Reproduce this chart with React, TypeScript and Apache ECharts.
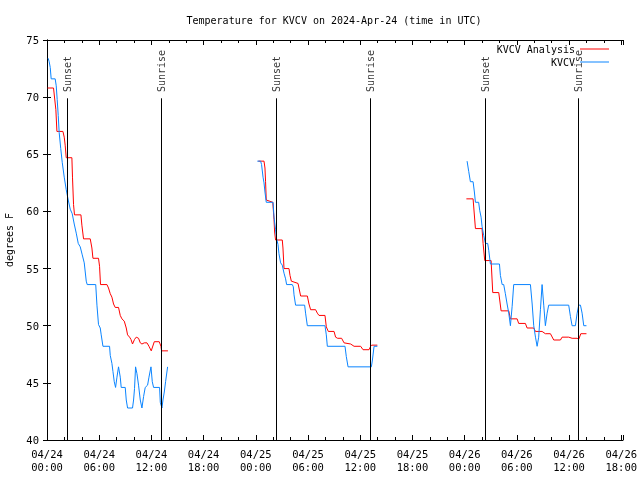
import React, { useEffect, useRef } from "react";
import * as echarts from "echarts";

// x values are hours since 2024-04-24 00:00 UTC, y values are degrees F
const analysisDay1: number[][] = [
  [0.06, 70.8], [0.75, 70.8], [1.02, 68.9], [1.14, 67.0], [1.83, 67.0], [1.98, 66.5], [2.09, 65.8], [2.21, 64.7],
  [2.86, 64.7], [2.93, 63.0], [3.05, 60.6], [3.16, 59.7], [3.9, 59.7], [4.01, 58.8], [4.2, 57.6], [4.97, 57.6],
  [5.16, 56.8], [5.28, 55.9], [5.92, 55.9], [6.04, 55.2], [6.15, 53.6], [6.89, 53.6], [7.07, 53.3], [7.27, 52.8],
  [7.46, 52.5], [7.65, 51.9], [7.84, 51.6], [8.22, 51.6], [8.42, 50.9], [8.61, 50.6], [8.88, 50.4], [9.11, 49.8],
  [9.26, 49.2], [9.49, 49.0], [9.65, 48.8], [9.83, 48.4], [10.06, 48.8], [10.26, 49.0], [10.52, 48.9], [10.72, 48.5],
  [10.91, 48.4], [11.18, 48.5], [11.49, 48.5], [11.72, 48.2], [11.98, 47.8], [12.33, 48.6], [12.9, 48.6], [13.1, 48.2],
  [13.17, 47.8], [13.9, 47.8],
];
const analysisDay2: number[][] = [
  [24.29, 64.4], [24.94, 64.4], [25.05, 63.8], [25.12, 62.6], [25.2, 61.0], [25.95, 60.8], [26.09, 59.3], [26.16, 58.2],
  [26.27, 57.5], [27.04, 57.5], [27.12, 56.8], [27.24, 55.0], [27.81, 55.0], [27.93, 54.4], [28.08, 53.9], [28.85, 53.7],
  [28.96, 53.3], [29.15, 52.6], [29.92, 52.6], [30.11, 51.9], [30.3, 51.4], [30.87, 51.4], [31.07, 51.1], [31.26, 50.9],
  [31.95, 50.9], [32.1, 49.9], [32.33, 49.5], [32.99, 49.5], [33.17, 49.0], [33.4, 48.9], [33.86, 48.9], [34.14, 48.5],
  [34.9, 48.4], [35.29, 48.2], [36.05, 48.2], [36.32, 47.9], [37.01, 47.9], [37.2, 48.2], [37.31, 48.3], [37.97, 48.3],
];
const analysisDay3: number[][] = [
  [48.2, 61.1], [48.97, 61.1], [49.24, 58.5], [50.0, 58.5], [50.12, 57.2], [50.31, 55.7], [51.04, 55.7], [51.23, 52.9],
  [51.92, 52.9], [52.19, 51.3], [53.07, 51.3], [53.26, 50.6], [54.03, 50.6], [54.21, 50.2], [54.98, 50.2], [55.18, 49.8],
  [55.94, 49.8], [56.14, 49.5], [56.9, 49.5], [57.28, 49.3], [57.86, 49.3], [58.24, 48.75], [59.01, 48.75], [59.2, 49.0],
  [59.96, 49.0], [60.35, 48.9], [60.93, 48.9], [61.11, 48.8], [61.35, 49.3], [62.0, 49.3],
];
const obsDay1: number[][] = [
  [0.14, 73.4], [0.25, 73.1], [0.37, 72.6], [0.48, 71.6], [0.94, 71.6], [1.06, 71.0], [1.17, 69.8], [1.29, 68.4],
  [1.4, 66.9], [1.58, 65.5], [1.75, 64.3], [1.98, 63.0], [2.21, 61.9], [2.44, 61.0], [2.67, 60.2], [2.9, 59.8],
  [3.13, 58.9], [3.36, 58.1], [3.59, 57.2], [3.82, 56.9], [4.05, 56.2], [4.28, 55.5], [4.51, 53.9], [4.62, 53.6],
  [5.6, 53.6], [5.74, 51.8], [5.92, 50.1], [6.12, 49.8], [6.23, 49.2], [6.43, 48.2], [7.19, 48.2], [7.27, 47.4],
  [7.46, 46.7], [7.58, 46.0], [7.73, 45.1], [7.88, 44.6], [8.04, 45.5], [8.22, 46.4], [8.42, 45.5], [8.53, 44.6],
  [8.99, 44.6], [9.11, 43.5], [9.26, 42.8], [9.83, 42.8], [9.95, 43.5], [10.06, 44.5], [10.18, 46.4], [10.34, 45.8],
  [10.52, 44.8], [10.72, 43.5], [10.91, 42.8], [11.1, 43.8], [11.29, 44.6], [11.56, 44.8], [11.72, 45.5], [11.95, 46.4],
  [12.1, 45.1], [12.25, 44.6], [12.94, 44.6], [13.02, 43.3], [13.21, 42.8], [13.33, 43.5], [13.48, 44.2], [13.63, 45.1],
  [13.86, 46.4],
];
const obsDay2: number[][] = [
  [24.17, 64.4], [24.55, 64.4], [24.66, 64.1], [24.83, 63.0], [24.94, 62.5], [25.05, 61.7], [25.2, 60.8], [25.98, 60.8],
  [26.09, 59.5], [26.27, 58.4], [26.39, 57.6], [26.55, 57.1], [26.66, 56.3], [26.85, 55.5], [27.04, 55.3], [27.24, 54.6],
  [27.42, 54.1], [27.54, 53.6], [28.19, 53.6], [28.31, 53.4], [28.39, 52.7], [28.57, 51.8], [29.61, 51.8], [29.72, 51.1],
  [29.92, 50.0], [31.95, 50.0], [32.1, 49.2], [32.22, 48.2], [34.25, 48.2], [34.4, 47.3], [34.6, 46.4], [37.28, 46.4],
  [37.4, 47.0], [37.59, 48.2], [37.97, 48.2],
];
const obsDay3: number[][] = [
  [48.28, 64.4], [48.47, 63.5], [48.66, 62.6], [48.97, 62.6], [49.12, 61.7], [49.24, 60.8], [49.61, 60.8], [49.73, 60.1],
  [49.89, 59.5], [50.0, 58.7], [50.19, 57.9], [50.39, 57.2], [50.65, 57.2], [50.77, 56.6], [50.96, 55.4], [52.0, 55.4],
  [52.11, 54.4], [52.31, 53.6], [52.49, 53.6], [52.68, 52.8], [52.88, 51.9], [53.07, 51.1], [53.26, 50.0], [53.46, 51.7],
  [53.64, 53.6], [55.56, 53.6], [55.76, 51.9], [55.94, 50.0], [56.14, 49.0], [56.33, 48.2], [56.51, 49.0], [56.71, 51.4],
  [56.9, 53.6], [57.09, 51.8], [57.28, 50.0], [57.48, 51.1], [57.66, 51.8], [59.96, 51.8], [60.16, 50.8], [60.35, 50.0],
  [60.73, 50.0], [60.93, 51.1], [61.11, 51.8], [61.31, 51.8], [61.5, 51.1], [61.69, 50.0], [62.0, 50.0],
];
const sunHours: number[] = [2.36, 13.13, 26.39, 37.2, 50.42, 61.11];
const sunLabels: string[] = ["Sunset", "Sunrise", "Sunset", "Sunrise", "Sunset", "Sunrise"];
const seriesNames: string[] = ["KVCV Analysis", "KVCV"];

export default function App() {
  const ref = useRef<HTMLDivElement>(null);
  useEffect(() => {
    if (!ref.current) return;
    const chart = echarts.init(ref.current, null, { renderer: "svg" });
    const font = "'DejaVu Sans Mono', 'Liberation Mono', monospace";
    const RED = "#ff0000";
    const BLUE = "#0a84ff";
    const fmtX = (v: number) => {
      const dayIdx = Math.floor(v / 24 + 1e-9);
      const hr = Math.round(v - dayIdx * 24);
      return `04/${24 + dayIdx}\n${String(hr).padStart(2, "0")}:00`;
    };
    const xBase = {
      type: "value" as const,
      min: 0,
      max: 66.2,
      interval: 6,
      axisLine: { show: true, lineStyle: { color: "#000", width: 1 } },
      axisTick: { show: true, inside: true, length: 5, lineStyle: { color: "#000" } },
      minorTick: { show: true, splitNumber: 3, length: 3, lineStyle: { color: "#000" } },
      splitLine: { show: false },
    };
    const yBase = {
      type: "value" as const,
      min: 40,
      max: 75,
      interval: 5,
      axisLine: { show: true, lineStyle: { color: "#000", width: 1 } },
      axisTick: { show: true, inside: true, length: 4, lineStyle: { color: "#000" } },
      splitLine: { show: false },
    };
    const lineSeries = (name: string, color: string, data: number[][]) => ({
      type: "line" as const,
      name,
      data,
      symbol: "none",
      color,
      lineStyle: { color, width: 1 },
      xAxisIndex: 0,
      yAxisIndex: 0,
      silent: true,
    });
    chart.setOption({
      animation: false,
      title: {
        text: "Temperature for KVCV on 2024-Apr-24 (time in UTC)",
        left: 329,
        textAlign: "center",
        top: 10,
        textStyle: { fontFamily: font, fontSize: 10, fontWeight: "normal", color: "#000" },
      },
      legend: {
        data: seriesNames,
        orient: "vertical",
        align: "right",
        right: 26,
        top: 38,
        itemWidth: 29,
        itemHeight: 1,
        itemGap: 1,
        icon: "rect",
        textStyle: { fontFamily: font, fontSize: 10, color: "#000", lineHeight: 12 },
      },
      grid: {
        left: 47,
        right: 17,
        top: 40,
        bottom: 40,
        show: false,
        containLabel: false,
        outerBoundsMode: "none",
      },
      xAxis: [
        {
          ...xBase,
          position: "bottom",
          axisLabel: {
            formatter: fmtX,
            fontFamily: font,
            fontSize: 10.5,
            color: "#000",
            lineHeight: 12.7,
            margin: 8,
            showMaxLabel: false,
          },
        },
        { ...xBase, position: "top", axisLabel: { show: false } },
      ],
      yAxis: [
        {
          ...yBase,
          position: "left",
          name: "degrees F",
          nameLocation: "middle",
          nameRotate: 90,
          nameGap: 33,
          nameTextStyle: { fontFamily: font, fontSize: 10, color: "#000" },
          axisLabel: { fontFamily: font, fontSize: 10.5, color: "#000", margin: 8 },
        },
        { ...yBase, position: "right", axisLabel: { show: false } },
      ],
      series: [
        lineSeries(seriesNames[0], RED, analysisDay1),
        lineSeries(seriesNames[0], RED, analysisDay2),
        lineSeries(seriesNames[0], RED, analysisDay3),
        lineSeries(seriesNames[1], BLUE, obsDay1),
        lineSeries(seriesNames[1], BLUE, obsDay2),
        lineSeries(seriesNames[1], BLUE, obsDay3),
        {
          type: "scatter",
          name: "sun",
          symbolSize: 0,
          silent: true,
          data: sunHours.map((h, i) => [h, 70.45, sunLabels[i]]),
          label: {
            show: true,
            formatter: (p: any) => p.value[2],
            position: [0, 0],
            rotate: 90,
            align: "left",
            verticalAlign: "middle",
            fontFamily: font,
            fontSize: 10,
            color: "#000",
          },
          markLine: {
            silent: true,
            symbol: "none",
            label: { show: false },
            lineStyle: { color: "#000", width: 1, type: "solid" },
            data: sunHours.map((h) => [{ coord: [h, 40] }, { coord: [h, 69.9] }]),
          },
        },
      ],
    });
    return () => chart.dispose();
  }, []);
  return <div ref={ref} style={{ position: "fixed", left: 0, top: 0, width: 640, height: 480 }} />;
}
